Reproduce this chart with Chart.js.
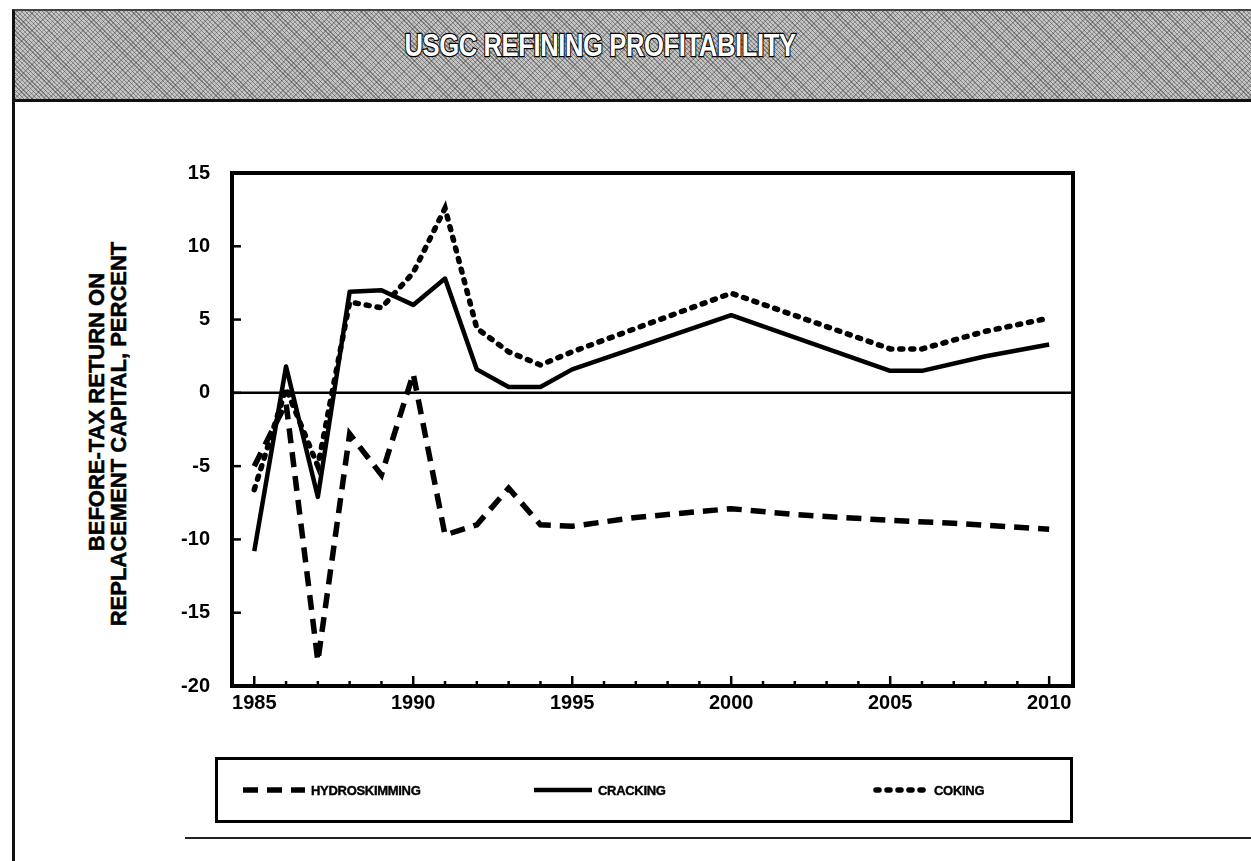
<!DOCTYPE html>
<html>
<head>
<meta charset="utf-8">
<title>USGC Refining Profitability</title>
<script src="https://cdn.jsdelivr.net/npm/chart.js@4.4.1/dist/chart.umd.min.js"></script>
<style>
  html, body { margin: 0; padding: 0; background: #fff; }
  #page { position: relative; width: 1251px; height: 861px; overflow: hidden; background: #fff;
          font-family: "Liberation Sans", Arial, sans-serif; }
  #bar { position: absolute; left: 12px; top: 9px; width: 1239px; height: 88px;
         border-top: 2px solid #444; border-bottom: 3px solid #111; border-left: 3px solid #111;
         background-color: #c4c4c4;
         background-image:
           repeating-linear-gradient(45deg, rgba(50,50,50,.45) 0 1px, transparent 1px 3px),
           repeating-linear-gradient(-45deg, rgba(50,50,50,.3) 0 1px, transparent 1px 4px); }
  #title { position: absolute; left: 600px; top: 45px; transform: translate(-50%, -50%) scaleX(0.8);
           font-size: 32px; font-weight: bold; color: #fff; white-space: nowrap;
           -webkit-text-stroke: 2.4px #000; paint-order: stroke fill; letter-spacing: -0.5px; }
  #lborder { position: absolute; left: 12px; top: 99px; width: 3px; height: 762px; background: #111; }
  #bline { position: absolute; left: 185px; top: 837px; width: 1066px; height: 2px; background: #222; }
  .ytitle { position: absolute; transform: translate(-50%, -50%) rotate(-90deg);
            font-size: 22px; font-weight: bold; white-space: nowrap; color: #000;
            -webkit-text-stroke: 0.5px #000; }
  #chart { position: absolute; left: 0; top: 0; }
  #legend { position: absolute; left: 215px; top: 757px; width: 852px; height: 60px;
            border: 3px solid #000; }
  #legend .item { position: absolute; top: 0; height: 60px; display: flex; align-items: center; }
  #legend .item span { font-size: 13px; font-weight: bold; margin-left: 3px; letter-spacing: -0.3px;
                       -webkit-text-stroke: 0.4px #000; }
</style>
</head>
<body>
<div id="page">
  <div id="bar"></div>
  <div id="title">USGC REFINING PROFITABILITY</div>
  <div id="lborder"></div>
  <div id="bline"></div>
  <div class="ytitle" style="left:97px; top:412px;">BEFORE-TAX RETURN ON</div>
  <div class="ytitle" style="left:119px; top:434px;">REPLACEMENT CAPITAL, PERCENT</div>
  <canvas id="chart" width="1251" height="861"></canvas>
  <div id="legend"></div>
</div>
<script>
// ---- Data ---------------------------------------------------------------
const years         = [1985, 1986, 1987, 1988, 1989, 1990, 1991, 1992, 1993, 1994, 1995, 1997, 2000, 2002, 2005, 2006, 2007, 2008, 2010];
const hydroskimming = [-5.0, -0.7, -18.3, -2.8, -5.6, 1.3, -9.7, -9.0, -6.5, -9.0, -9.1, -8.5, -7.9, -8.3, -8.7, null, -8.9, null, -9.3];
const cracking      = [-10.8, 1.8, -7.1, 6.9, 7.0, 6.0, 7.8, 1.6, 0.4, 0.4, 1.6, null, 5.3, null, 1.5, 1.5, null, 2.5, 3.3];
const coking        = [-6.6, 0.3, -5.0, 6.2, 5.8, 8.2, 12.6, 4.4, 2.8, 1.9, 2.8, null, 6.8, null, 3.0, 3.0, null, 4.2, 5.1];

const seriesNames = ["HYDROSKIMMING", "CRACKING", "COKING"];
const xTickLabels = [1985, 1990, 1995, 2000, 2005, 2010];
const yTickLabels = [-20, -15, -10, -5, 0, 5, 10, 15];

// ---- Helpers -------------------------------------------------------------
function toPoints(vals) {
  return years.map((yr, i) => ({ x: yr, y: vals[i] }));
}

// frame, zero line and inward ticks, drawn from the chart's own scales
const framePlugin = {
  id: "frame",
  beforeDatasetsDraw(chart) {
    const { ctx, chartArea: a, scales: { y } } = chart;
    const zy = y.getPixelForValue(0);
    ctx.save();
    ctx.strokeStyle = "#000";
    ctx.lineWidth = 2.5;
    ctx.beginPath();
    ctx.moveTo(a.left, zy);
    ctx.lineTo(a.right, zy);
    ctx.stroke();
    ctx.restore();
  },
  afterDatasetsDraw(chart) {
    const { ctx, chartArea: a, scales: { x, y } } = chart;
    ctx.save();
    ctx.strokeStyle = "#000";
    ctx.lineWidth = 2.5;
    for (let yr = xTickLabels[0]; yr <= xTickLabels[xTickLabels.length - 1]; yr++) {
      const px = x.getPixelForValue(yr);
      const len = yr % 5 === 0 ? 10 : 5;
      ctx.beginPath();
      ctx.moveTo(px, a.bottom);
      ctx.lineTo(px, a.bottom - len);
      ctx.stroke();
    }
    yTickLabels.forEach((v) => {
      const py = y.getPixelForValue(v);
      ctx.beginPath();
      ctx.moveTo(a.left, py);
      ctx.lineTo(a.left + 9, py);
      ctx.stroke();
    });
    ctx.lineWidth = 4;
    ctx.strokeRect(a.left, a.top, a.right - a.left, a.bottom - a.top);
    ctx.restore();
  },
};

function buildLegend(chart) {
  const box = document.getElementById("legend");
  const spots = [
    { left: 22, sample: 68 },
    { left: 313, sample: 64 },
    { left: 655, sample: 58 },
  ];
  const items = chart.legend?.legendItems || [];
  box.innerHTML = items
    .map((it, i) => {
      const s = spots[i];
      const dash = it.lineDash && it.lineDash.length ? it.lineDash.join(" ") : "none";
      return `<div class="item" style="left:${s.left}px">
        <svg width="${s.sample}" height="10"><line x1="3" y1="5" x2="${s.sample - 3}" y2="5"
          stroke="#000" stroke-width="${it.lineWidth}" stroke-dasharray="${dash}"
          stroke-linecap="${it.lineCap || "butt"}"/></svg>
        <span>${it.text}</span></div>`;
    })
    .join("");
}

// ---- Chart ---------------------------------------------------------------
const tickFont = { family: "Liberation Sans", size: 20, weight: "bold" };

const chart = new Chart(document.getElementById("chart").getContext("2d"), {
  type: "line",
  data: {
    datasets: [
      { label: seriesNames[0], data: toPoints(hydroskimming), borderColor: "#000", borderWidth: 5.5,
        borderDash: [15, 9], borderCapStyle: "butt" },
      { label: seriesNames[1], data: toPoints(cracking), borderColor: "#000", borderWidth: 4.5,
        borderJoinStyle: "round" },
      { label: seriesNames[2], data: toPoints(coking), borderColor: "#000", borderWidth: 5.5,
        borderDash: [3, 8], borderCapStyle: "round" },
    ],
  },
  options: {
    responsive: false,
    animation: false,
    spanGaps: true,
    elements: { point: { radius: 0 }, line: { tension: 0 } },
    layout: { padding: { left: 0, top: 173, right: 178, bottom: 135 } },
    plugins: { legend: { display: false }, tooltip: { enabled: false } },
    scales: {
      x: {
        type: "linear",
        min: 1984.3,
        max: 2010.75,
        grid: { display: false, drawTicks: false },
        border: { display: false },
        afterBuildTicks: (s) => { s.ticks = xTickLabels.map((v) => ({ value: v })); },
        afterFit: (s) => { s.height = 40; },
        ticks: { color: "#000", padding: 5, font: tickFont, callback: (v) => String(v), maxRotation: 0 },
      },
      y: {
        min: -20,
        max: 15,
        grid: { display: false, drawTicks: false },
        border: { display: false },
        afterBuildTicks: (s) => { s.ticks = yTickLabels.map((v) => ({ value: v })); },
        afterFit: (s) => { s.width = 232; },
        ticks: { color: "#000", padding: 22, font: tickFont },
      },
    },
  },
  plugins: [framePlugin],
});

buildLegend(chart);
</script>
</body>
</html>
